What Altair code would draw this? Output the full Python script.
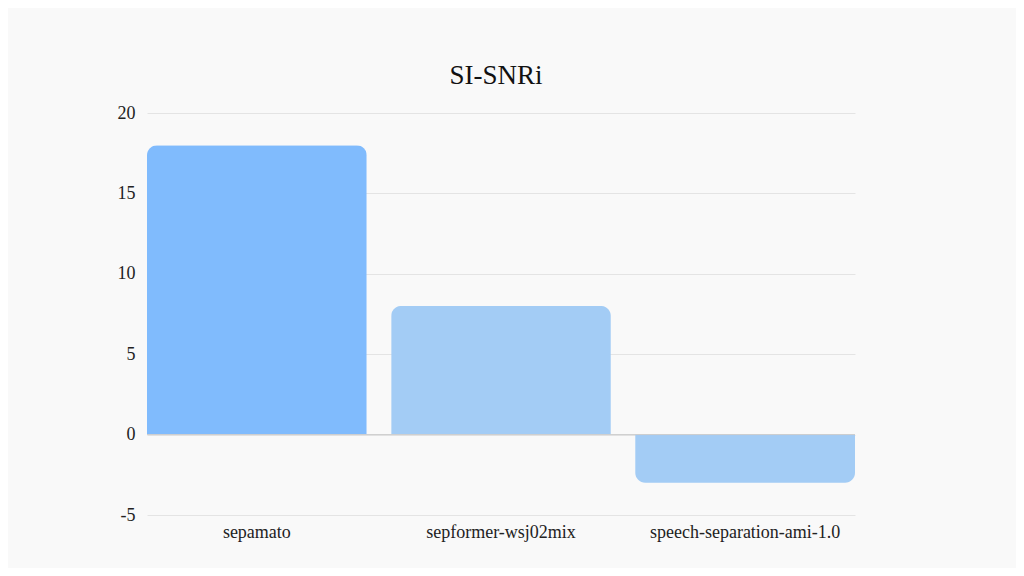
import altair as alt
import pandas as pd

models = ["sepamato", "sepformer-wsj02mix", "speech-separation-ami-1.0"]
si_snri = [18.0, 8.0, -3.0]
bar_colors = ["#80bbfd", "#a3ccf5", "#a3ccf5"]

df = pd.DataFrame({"model": models, "value": si_snri, "color": bar_colors})
df["zero"] = 0.0

FONT = "Liberation Serif"

x_enc = alt.X("model:N", sort=models, title=None,
              scale=alt.Scale(paddingInner=0.1, paddingOuter=0),
              axis=alt.Axis(labelAngle=0, ticks=False, domain=False, labelPadding=8,
                            labelFontSize=18, labelColor="#222222", labelFont=FONT,
                            labelLimit=0))
y_enc = alt.Y("value:Q", title=None,
              scale=alt.Scale(domain=[-5, 20], nice=False),
              axis=alt.Axis(values=[-5, 0, 5, 10, 15, 20], ticks=False, domain=False,
                            labelPadding=12, labelFontSize=18, labelColor="#222222",
                            labelFont=FONT, gridColor="#e4e4e4",
                            labelExpr="datum.value + ''"))
c_enc = alt.Color("color:N", scale=None)

base = alt.Chart(df)

pos = base.transform_filter("datum.value >= 0").mark_bar(
    cornerRadiusTopLeft=10, cornerRadiusTopRight=10
).encode(x=x_enc, y=y_enc, color=c_enc)

neg = base.transform_filter("datum.value < 0").mark_bar(
    cornerRadiusBottomLeft=10, cornerRadiusBottomRight=10
).encode(x=x_enc, y=alt.Y("zero:Q"), y2="value:Q", color=c_enc)

zero = alt.Chart(pd.DataFrame({"z": [0]})).mark_rule(color="#cccccc", strokeWidth=1).encode(y="z:Q")

chart = alt.layer(pos, neg, zero).properties(
    width=708,
    height=402,
    background="#f9f9f9",
    padding={"left": 139, "top": 105, "right": 161, "bottom": 53},
    autosize=alt.AutoSizeParams(type="none"),
    title=alt.TitleParams("SI-SNRi", font=FONT, fontSize=27, fontWeight="normal",
                          color="#111111", offset=14, anchor="middle", dx=-5),
).configure_view(strokeWidth=0)

chart.save("out.html", embed_options={"renderer": "svg", "actions": False})
